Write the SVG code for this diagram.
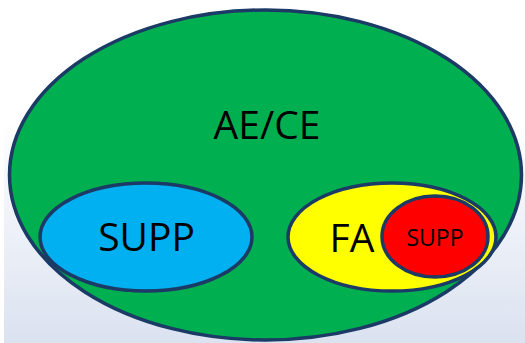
<svg xmlns="http://www.w3.org/2000/svg" width="525" height="343" viewBox="0 0 525 343">
  <defs>
    <linearGradient id="bg" x1="0" y1="0" x2="0" y2="1">
      <stop offset="0" stop-color="#ffffff"/>
      <stop offset="0.35" stop-color="#ffffff"/>
      <stop offset="1" stop-color="#dbe2f0"/>
    </linearGradient>
  </defs>
  <style>
    .e { stroke: #1b3a66; stroke-width: 3.5; }
    .t { font-family: "Open Sans", "Liberation Sans", sans-serif; fill: #000; text-anchor: middle; }
  </style>
  <rect x="0" y="0" width="525" height="343" fill="#ffffff"/>
  <rect x="4" y="0" width="521" height="343" fill="url(#bg)"/>
  <g id="aece">
    <ellipse class="e" cx="265.5" cy="175" rx="256" ry="165" fill="#00b050"/>
    <text class="t" x="267" y="139" font-size="39">AE/CE</text>
  </g>
  <g id="supp">
    <ellipse class="e" cx="146" cy="237" rx="106" ry="54" fill="#00b0f0"/>
    <text class="t" x="146.5" y="251" font-size="39">SUPP</text>
  </g>
  <g id="fa">
    <ellipse class="e" cx="392" cy="237" rx="104" ry="54" fill="#ffff00"/>
    <text class="t" x="352" y="252" font-size="39">FA</text>
  </g>
  <g id="fa-supp">
    <ellipse class="e" cx="435" cy="236.5" rx="53" ry="40.5" fill="#ff0000"/>
    <text class="t" x="435" y="246" font-size="23">SUPP</text>
  </g>
  <g id="connectors"/>
</svg>
